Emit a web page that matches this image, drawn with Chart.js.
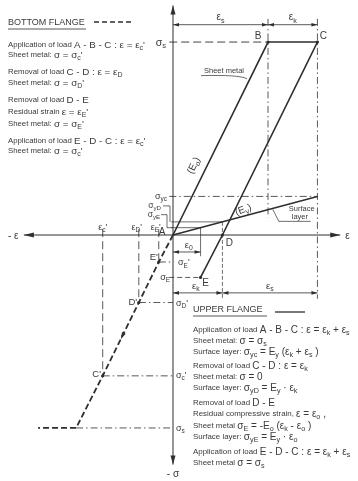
<!DOCTYPE html>
<html>
<head>
<meta charset="utf-8">
<script src="https://cdn.jsdelivr.net/npm/chart.js@4.4.0/dist/chart.umd.min.js"></script>
<style>
  html, body { margin: 0; padding: 0; background: #fff; }
  canvas { display: block; }
</style>
</head>
<body>
<canvas id="diagrama" width="358" height="481"></canvas>
<script>
// Upper flange, sheet metal: A-B-C-D-E  (strain, stress)
const upperPoints = ['A', 'B', 'C', 'D', 'E'];
const upperStrain = [0, 1.0, 1.52, 0.52, 0.29];
const upperStress = [0, 1.0, 1.0, 0, -0.22];

// surface layer (Ey)
const surfaceStrain = [0, 1.52];
const surfaceStress = [0, 0.2];

// Bottom flange: A-E'-D'-C' then the compressive plateau
const lowerPoints = ['A', "E'", "D'", "C'", '', ''];
const lowerStrain = [0, -0.15, -0.36, -0.74, -1.02, -1.42];
const lowerStress = [0, -0.14, -0.35, -0.73, -1.0, -1.0];

// named strains / stresses for construction lines
const epsS = 1.0, epsK = 0.52, eps0 = 0.29;
const sigS = 1.0, sigYC = 0.2, sigYD = 0.068, sigYE = 0.038;

const bottomNotes = [
  ['Application of load ', "A - B - C : ε = ε_c'"],
  ['Sheet metal: ', "σ = σ_c'"],
  ['Removal of load ', 'C - D : ε = ε_D'],
  ['Sheet metal: ', "σ = σ_D'"],
  ['Removal of load ', 'D - E'],
  ['Residual strain ', "ε = ε_E'"],
  ['Sheet metal: ', "σ = σ_E'"],
  ['Application of load ', "E - D - C : ε = ε_c'"],
  ['Sheet metal: ', "σ = σ_c'"]
];
const bottomNoteY = [45, 55, 72, 83, 100, 112, 124, 141, 151];

const upperNotes = [
  ['Application of load ', 'A - B - C : ε = ε_k + ε_s'],
  ['Sheet metal: ', 'σ = σ_s'],
  ['Surface layer: ', 'σ_{yc} = E_y (ε_k + ε_s )'],
  ['Removal of load ', 'C - D : ε = ε_k'],
  ['Sheet metal: ', 'σ = 0'],
  ['Surface layer: ', 'σ_{yD} = E_y · ε_k'],
  ['Removal of load ', 'D - E'],
  ['Residual compressive strain, ', 'ε = ε_o ,'],
  ['Sheet metal ', 'σ_E = -E_o (ε_k - ε_o )'],
  ['Surface layer: ', 'σ_{yE} = E_y · ε_o'],
  ['Application of load ', 'E - D - C : ε = ε_k + ε_s'],
  ['Sheet metal ', 'σ = σ_s']
];
const upperNoteY = [330, 341, 352, 366, 377, 388, 403, 414, 426, 437, 452, 463];

const INK = '#2e2e2e';
const TEXT = '#3a3a3a';
const FAMILY = '"Liberation Sans", Arial, sans-serif';
const DASH_LONG = [8, 4];
const DASH_DOT = [7, 3, 1.5, 3];

function toPoints(xs, ys) {
  return xs.map((x, i) => ({ x: x, y: ys[i] }));
}

// simple rich text: "_x" or "_{xy}" gives a subscript
function parseRich(text) {
  const parts = [];
  let buf = '';
  let i = 0;
  while (i < text.length) {
    const ch = text[i];
    if (ch === '_') {
      if (buf) { parts.push({ t: buf, sub: false }); buf = ''; }
      if (text[i + 1] === '{') {
        const end = text.indexOf('}', i);
        parts.push({ t: text.slice(i + 2, end), sub: true });
        i = end + 1;
      } else {
        parts.push({ t: text[i + 1], sub: true });
        i += 2;
      }
    } else {
      buf += ch;
      i++;
    }
  }
  if (buf) parts.push({ t: buf, sub: false });
  return parts;
}

function drawRich(ctx, text, x, y, size, align) {
  const parts = parseRich(text);
  let w = 0;
  parts.forEach(p => {
    ctx.font = (p.sub ? size * 0.72 : size) + 'px ' + FAMILY;
    p.w = ctx.measureText(p.t).width;
    w += p.w;
  });
  let cx = align === 'right' ? x - w : align === 'center' ? x - w / 2 : x;
  ctx.textAlign = 'left';
  ctx.textBaseline = 'middle';
  parts.forEach(p => {
    ctx.font = (p.sub ? size * 0.72 : size) + 'px ' + FAMILY;
    ctx.fillText(p.t, cx, p.sub ? y + size * 0.3 : y);
    cx += p.w;
  });
  return w;
}

function arrowHead(ctx, x, y, ang, len, half) {
  ctx.save();
  ctx.translate(x, y);
  ctx.rotate(ang);
  ctx.beginPath();
  ctx.moveTo(0, 0);
  ctx.lineTo(-len, -half);
  ctx.lineTo(-len, half);
  ctx.closePath();
  ctx.fill();
  ctx.restore();
}

const construcao = {
  id: 'construcao',
  beforeDatasetsDraw(chart) {
    const ctx = chart.ctx;
    const px = v => chart.scales.x.getPixelForValue(v);
    const py = v => chart.scales.y.getPixelForValue(v);
    const ox = px(0), oy = py(0);

    function seg(x1, y1, x2, y2, dash, w) {
      ctx.save();
      ctx.strokeStyle = INK;
      ctx.lineWidth = w || 0.8;
      ctx.setLineDash(dash || []);
      ctx.beginPath();
      ctx.moveTo(px(x1), py(y1));
      ctx.lineTo(px(x2), py(y2));
      ctx.stroke();
      ctx.restore();
    }

    // axes
    ctx.save();
    ctx.strokeStyle = INK;
    ctx.fillStyle = INK;
    ctx.lineWidth = 1;
    ctx.beginPath();
    ctx.moveTo(ox, py(1.19));
    ctx.lineTo(ox, py(-1.19));
    ctx.moveTo(px(-1.57), oy);
    ctx.lineTo(px(1.76), oy);
    ctx.stroke();
    arrowHead(ctx, ox, py(1.19), -Math.PI / 2, 9, 2.5);
    arrowHead(ctx, ox, py(-1.19), Math.PI / 2, 9, 2.5);
    arrowHead(ctx, px(-1.57), oy, Math.PI, 10, 2.5);
    arrowHead(ctx, px(1.76), oy, 0, 10, 2.5);
    ctx.restore();

    // upper flange construction lines
    seg(-0.04, sigS, epsS, sigS, DASH_LONG, 0.9);
    seg(epsS, 1.12, epsS, 0.09, DASH_DOT);
    seg(epsS + epsK, 1.12, epsS + epsK, -0.33, DASH_DOT);
    seg(-0.04, sigYC, epsS + epsK, sigYC, DASH_DOT);
    seg(-0.02, sigYD, epsK, sigYD, [], 0.7);
    seg(-0.02, sigYE, eps0, sigYE, [], 0.7);
    seg(epsK, sigYD, epsK, -0.33, [4, 2], 0.7);
    seg(eps0, sigYE, eps0, -0.11, [], 0.7);
    seg(-0.04, upperStress[4], upperStrain[4], upperStress[4], [5, 3], 0.8);

    // bottom flange construction lines
    for (let i = 1; i <= 3; i++) {
      seg(lowerStrain[i], 0.03, lowerStrain[i], lowerStress[i], DASH_LONG, 0.8);
    }
    for (let i = 1; i <= 4; i++) {
      seg(lowerStrain[i], lowerStress[i], 0, lowerStress[i], DASH_DOT, 0.8);
    }

    // dimension lines
    ctx.save();
    ctx.strokeStyle = INK;
    ctx.fillStyle = INK;
    ctx.lineWidth = 0.8;
    function dim(x1, x2, y) {
      const a = px(x1), b = px(x2), yy = py(y);
      ctx.beginPath();
      ctx.moveTo(a, yy);
      ctx.lineTo(b, yy);
      ctx.stroke();
      arrowHead(ctx, a, yy, Math.PI, 6, 1.8);
      arrowHead(ctx, b, yy, 0, 6, 1.8);
    }
    dim(0, epsS, 1.09);
    dim(epsS, epsS + epsK, 1.09);
    dim(0, eps0, -0.088);
    dim(0, epsK, -0.3);
    dim(epsK, epsS + epsK, -0.3);
    ctx.restore();

    // leaders for σyD / σyE
    ctx.save();
    ctx.strokeStyle = INK;
    ctx.lineWidth = 0.7;
    ctx.beginPath();
    ctx.moveTo(ox - 10, py(sigYD) - 16);
    ctx.lineTo(ox - 3, py(sigYD) - 16);
    ctx.lineTo(ox - 3, py(sigYD));
    ctx.moveTo(ox - 12, py(sigYE) - 13);
    ctx.lineTo(ox - 6, py(sigYE) - 13);
    ctx.lineTo(ox - 6, py(sigYE));
    ctx.lineTo(ox, py(sigYE));
    ctx.stroke();
    ctx.restore();
  },

  afterDatasetsDraw(chart) {
    const ctx = chart.ctx;
    const px = v => chart.scales.x.getPixelForValue(v);
    const py = v => chart.scales.y.getPixelForValue(v);
    const ox = px(0), oy = py(0);
    ctx.save();
    ctx.fillStyle = TEXT;
    ctx.strokeStyle = INK;

    // arrow on the bottom flange path
    const mx = (px(lowerStrain[2]) + px(lowerStrain[3])) / 2;
    const my = (py(lowerStress[2]) + py(lowerStress[3])) / 2;
    const ang = Math.atan2(py(lowerStress[3]) - py(lowerStress[2]), px(lowerStrain[3]) - px(lowerStrain[2]));
    ctx.fillStyle = INK;
    arrowHead(ctx, mx, my, ang, 7, 2);
    ctx.fillStyle = TEXT;

    // point labels
    const upOff = [[-11, -3], [-10, -6], [6, -6], [7, 8], [5, 6]];
    upperPoints.forEach((n, i) => {
      drawRich(ctx, n, px(upperStrain[i]) + upOff[i][0], py(upperStress[i]) + upOff[i][1], 10, 'center');
    });
    const lowOff = [null, [-5, -5], [-6, 0], [-6, -1]];
    for (let i = 1; i <= 3; i++) {
      drawRich(ctx, lowerPoints[i], px(lowerStrain[i]) + lowOff[i][0], py(lowerStress[i]) + lowOff[i][1], 9.5, 'center');
    }
    // small dots on the nodes
    ctx.fillStyle = INK;
    [[upperStrain, upperStress, [1, 2, 3, 4]], [lowerStrain, lowerStress, [1, 2, 3]]].forEach(([xs, ys, ids]) => {
      ids.forEach(i => {
        ctx.beginPath();
        ctx.arc(px(xs[i]), py(ys[i]), 1.6, 0, Math.PI * 2);
        ctx.fill();
      });
    });
    ctx.fillStyle = TEXT;

    // axis labels
    drawRich(ctx, '- ε', 8, oy + 1, 10, 'left');
    drawRich(ctx, 'ε', px(1.76) + 5, oy + 1, 10, 'left');
    drawRich(ctx, '- σ', ox, py(-1.19) + 10, 10, 'center');

    // stress labels beside the σ axis
    drawRich(ctx, 'σ_s', ox - 7, py(sigS) + 1, 10.5, 'right');
    drawRich(ctx, 'σ_{yc}', ox - 6, py(sigYC), 9, 'right');
    drawRich(ctx, 'σ_{yD}', ox - 12, py(sigYD) - 16, 8.5, 'right');
    drawRich(ctx, 'σ_{yE}', ox - 13, py(sigYE) - 13, 8.5, 'right');
    drawRich(ctx, 'σ_E', ox - 3, py(upperStress[4]), 9, 'right');
    drawRich(ctx, "σ_E'", ox + 5, py(lowerStress[1]) + 1, 9, 'left');
    drawRich(ctx, "σ_D'", ox + 3, py(lowerStress[2]) + 1, 9, 'left');
    drawRich(ctx, "σ_c'", ox + 3, py(lowerStress[3]), 9, 'left');
    drawRich(ctx, 'σ_s', ox + 3, py(lowerStress[4]) + 1, 9, 'left');

    // strain labels above the ε axis
    drawRich(ctx, "ε_c'", px(lowerStrain[3]), oy - 7, 9, 'center');
    drawRich(ctx, "ε_D'", px(lowerStrain[2]) - 2, oy - 7, 9, 'center');
    drawRich(ctx, "ε_E'", px(lowerStrain[1]) - 3, oy - 7, 9, 'center');

    // dimension labels
    drawRich(ctx, 'ε_s', px(epsS / 2), py(1.09) - 7, 10, 'center');
    drawRich(ctx, 'ε_k', px(epsS + epsK / 2), py(1.09) - 7, 10, 'center');
    drawRich(ctx, 'ε_0', px(eps0 / 2) + 2, py(-0.088) - 7, 9.5, 'center');
    drawRich(ctx, 'ε_k', px(epsK / 2) - 2, py(-0.3) - 7, 9.5, 'center');
    drawRich(ctx, 'ε_s', px(epsK + epsS / 2), py(-0.3) - 7, 9.5, 'center');

    // slopes
    const rot = (text, x, y, a, size) => {
      ctx.save();
      ctx.translate(x, y);
      ctx.rotate(a);
      drawRich(ctx, text, 0, 0, size, 'center');
      ctx.restore();
    };
    const slopeAB = Math.atan2(py(upperStress[1]) - oy, px(upperStrain[1]) - ox);
    rot('(E_o)', px(0.22), py(0.36), slopeAB, 10);
    const slopeSurf = Math.atan2(py(surfaceStress[1]) - oy, px(surfaceStrain[1]) - ox);
    rot('(E_y)', px(0.74), py(0.13), slopeSurf - 0.1, 10);

    // "Sheet metal" leader
    const smX = px(0.8), smY = py(0.8);
    ctx.font = '7.5px ' + FAMILY;
    ctx.textAlign = 'right';
    ctx.textBaseline = 'middle';
    ctx.fillText('Sheet metal', smX - 5, smY - 10);
    ctx.lineWidth = 0.7;
    ctx.beginPath();
    ctx.moveTo(smX - 48, smY - 5);
    ctx.quadraticCurveTo(smX - 10, smY - 6, smX - 2, smY - 2);
    ctx.stroke();

    // "Surface layer" leader
    const slX = px(1.05), slY = py(1.05 * surfaceStress[1] / surfaceStrain[1]);
    ctx.textAlign = 'left';
    ctx.fillText('Surface', slX + 16, slY + 1);
    ctx.fillText('layer', slX + 19, slY + 9);
    ctx.beginPath();
    ctx.moveTo(slX, slY + 1);
    ctx.lineTo(slX + 6, slY + 13);
    ctx.lineTo(slX + 38, slY + 13);
    ctx.stroke();

    // note blocks
    ctx.fillStyle = TEXT;
    drawRich(ctx, 'BOTTOM FLANGE', 8, 23, 9, 'left');
    ctx.lineWidth = 0.8;
    ctx.beginPath();
    ctx.moveTo(8, 29);
    ctx.lineTo(86, 29);
    ctx.stroke();
    ctx.save();
    ctx.setLineDash([5, 3]);
    ctx.lineWidth = 1.3;
    ctx.beginPath();
    ctx.moveTo(94, 22);
    ctx.lineTo(134, 22);
    ctx.stroke();
    ctx.restore();
    bottomNotes.forEach((n, i) => {
      const w = drawRich(ctx, n[0], 8, bottomNoteY[i], 7.8, 'left');
      drawRich(ctx, n[1], 8 + w, bottomNoteY[i], 9.8, 'left');
    });

    drawRich(ctx, 'UPPER FLANGE', 193, 310, 9, 'left');
    ctx.beginPath();
    ctx.moveTo(193, 316);
    ctx.lineTo(267, 316);
    ctx.stroke();
    ctx.lineWidth = 1.3;
    ctx.beginPath();
    ctx.moveTo(275, 312);
    ctx.lineTo(305, 312);
    ctx.stroke();
    upperNotes.forEach((n, i) => {
      const w = drawRich(ctx, n[0], 193, upperNoteY[i], 7.9, 'left');
      drawRich(ctx, n[1], 193 + w, upperNoteY[i], 10, 'left');
    });
    ctx.restore();
  }
};

new Chart(document.getElementById('diagrama'), {
  type: 'scatter',
  data: {
    datasets: [
      {
        data: toPoints(upperStrain, upperStress),
        showLine: true,
        borderColor: INK,
        borderWidth: 1.6,
        pointRadius: 0
      },
      {
        data: toPoints(surfaceStrain, surfaceStress),
        showLine: true,
        borderColor: INK,
        borderWidth: 1.5,
        pointRadius: 0
      },
      {
        data: toPoints(lowerStrain, lowerStress),
        showLine: true,
        borderColor: INK,
        borderWidth: 1.8,
        borderDash: [6, 3],
        pointRadius: 0
      }
    ]
  },
  options: {
    responsive: false,
    animation: false,
    events: [],
    layout: { padding: 0 },
    plugins: {
      legend: { display: false },
      tooltip: { enabled: false }
    },
    scales: {
      x: { type: 'linear', display: false, min: -1.821, max: 1.947 },
      y: { type: 'linear', display: false, min: -1.275, max: 1.218 }
    }
  },
  plugins: [construcao]
});
</script>
</body>
</html>
